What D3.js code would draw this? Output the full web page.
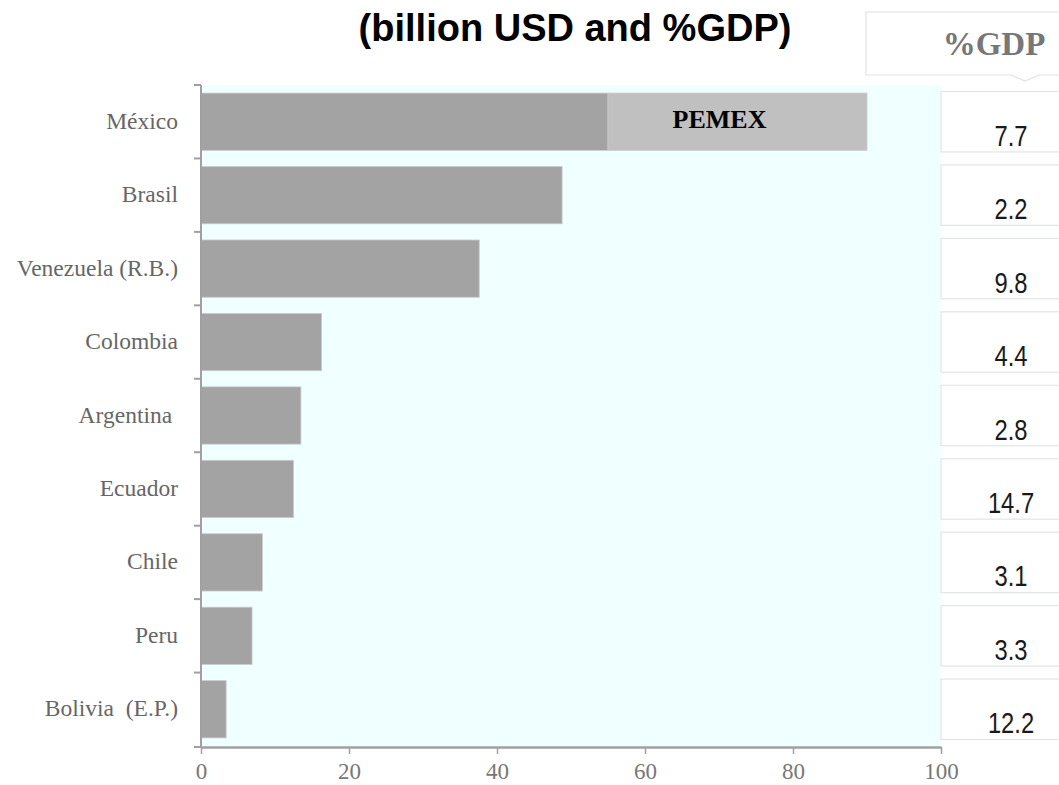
<!DOCTYPE html>
<html lang="en">
<head>
<meta charset="utf-8">
<title>Oil revenues (billion USD and %GDP)</title>
<script src="https://d3js.org/d3.v7.min.js"></script>
<style>
  body { margin: 0; background: #fff; }
  svg text { font-family: "Liberation Serif", "Times New Roman", serif; }
</style>
</head>
<body>
<div id="chart"></div>
<script>
// data
var countries = ["México", "Brasil", "Venezuela (R.B.)", "Colombia", "Argentina ", "Ecuador", "Chile", "Peru", "Bolivia  (E.P.)"];
var baseValues = [55, 48.8, 37.6, 16.3, 13.5, 12.5, 8.3, 6.9, 3.4];   // billion USD
var pemexValues = [35, 0, 0, 0, 0, 0, 0, 0, 0];                      // PEMEX part of México
var gdpShare = ["7.7", "2.2", "9.8", "4.4", "2.8", "14.7", "3.1", "3.3", "12.2"];
var xTicks = [0, 20, 40, 60, 80, 100];

var W = 1059, H = 785;
var margin = {top: 85, left: 201, right: 118, bottom: 39};
var plotW = W - margin.left - margin.right,
    plotH = H - margin.top - margin.bottom;

var svg = d3.select("#chart").append("svg")
    .attr("width", W)
    .attr("height", H);

var x = d3.scaleLinear().domain([0, 100]).range([margin.left, margin.left + plotW]);
var y = d3.scaleBand().domain(countries).range([margin.top, margin.top + plotH]);
var inset = y.step() * 0.11, barH = y.step() * 0.78;

// title
svg.append("text")
    .attr("x", 575).attr("y", 41)
    .attr("text-anchor", "middle")
    .style("font-family", "'Liberation Sans', Arial, sans-serif")
    .style("font-weight", "bold")
    .style("font-size", "38px")
    .attr("fill", "#000")
    .text("(billion USD and %GDP)");

// plot background
svg.append("rect")
    .attr("x", x(0)).attr("y", margin.top)
    .attr("width", x(100) - x(0)).attr("height", plotH)
    .attr("fill", "#f0ffff");

// stacked bars
var rows = countries.map(function (c, i) { return {country: c, base: baseValues[i], pemex: pemexValues[i]}; });
var stack = d3.stack().keys(["base", "pemex"])(rows);
var fills = {base: "#a3a3a3", pemex: "#c0c0c0"};

svg.append("g").selectAll("g")
  .data(stack)
  .join("g")
    .attr("fill", function (s) { return fills[s.key]; })
  .selectAll("rect")
  .data(function (s) { return s.filter(function (d) { return d[1] > d[0]; }); })
  .join("rect")
    .attr("x", function (d) { return x(d[0]); })
    .attr("y", function (d) { return y(d.data.country) + inset; })
    .attr("width", function (d) { return x(d[1]) - x(d[0]); })
    .attr("height", barH)
    .attr("stroke", "#c9cccc")
    .attr("stroke-width", 0.8);

// PEMEX label
svg.append("text")
    .attr("x", (x(baseValues[0]) + x(baseValues[0] + pemexValues[0])) / 2 - 18)
    .attr("y", y(countries[0]) + y.step() / 2 + 6)
    .attr("text-anchor", "middle")
    .style("font-weight", "bold")
    .style("font-size", "26px")
    .attr("fill", "#000")
    .text("PEMEX");

// bottom axis
var xAxis = svg.append("g")
    .attr("transform", "translate(0," + (margin.top + plotH + 1) + ")")
    .call(d3.axisBottom(x).tickValues(xTicks).tickSize(7).tickSizeOuter(0).tickPadding(9));
xAxis.select(".domain").attr("stroke", "#a0a0a0").attr("stroke-width", 2.5);
xAxis.selectAll(".tick line").attr("stroke", "#a0a0a0").attr("stroke-width", 1.5);
xAxis.selectAll(".tick text")
    .attr("fill", "#777")
    .style("font-family", "'Liberation Serif', serif")
    .style("font-size", "23px");

// left axis line with ticks at the row boundaries
var yAxis = svg.append("g");
yAxis.append("line")
    .attr("x1", x(0)).attr("x2", x(0))
    .attr("y1", margin.top).attr("y2", margin.top + plotH + 2)
    .attr("stroke", "#a0a0a0").attr("stroke-width", 2);
yAxis.selectAll("line.tick")
  .data(countries.concat([null]))
  .join("line")
    .attr("class", "tick")
    .attr("x1", x(0) - 7).attr("x2", x(0))
    .attr("y1", function (c) { return c === null ? margin.top + plotH + 1 : y(c); })
    .attr("y2", function (c) { return c === null ? margin.top + plotH + 1 : y(c); })
    .attr("stroke", "#a0a0a0").attr("stroke-width", 2);

// category labels
svg.append("g").selectAll("text")
  .data(countries)
  .join("text")
    .attr("x", 178)
    .attr("y", function (c) { return y(c) + y.step() / 2 + 7; })
    .attr("text-anchor", "end")
    .attr("fill", "#666")
    .style("font-size", "23.5px")
    .style("white-space", "pre")
    .text(function (c) { return c; });

// %GDP header with the small pointer underneath
var hx0 = 866, hx1 = 1070, hy0 = 12, hy1 = 75, px = 1025;
svg.append("path")
    .attr("d", "M" + hx0 + "," + hy0 + "H" + hx1 + "V" + hy1 + "H" + (px + 14) + "L" + px + "," + (hy1 + 6) + "L" + (px - 14) + "," + hy1 + "H" + hx0 + "Z")
    .attr("fill", "#fff")
    .attr("stroke", "#e2e2e2")
    .attr("stroke-width", 1.2);
svg.append("text")
    .attr("x", 994).attr("y", 55)
    .attr("text-anchor", "middle")
    .style("font-weight", "bold")
    .style("font-size", "33px")
    .attr("fill", "#777")
    .text("%GDP");

// %GDP boxes
var boxes = svg.append("g").selectAll("g")
  .data(countries)
  .join("g")
    .attr("transform", function (c) { return "translate(" + x(100) + "," + y(c) + ")"; });
boxes.append("rect")
    .attr("x", 0).attr("y", 6.5)
    .attr("width", 140).attr("height", y.step() - 13)
    .attr("fill", "#fff")
    .attr("stroke", "#e2e6e6")
    .attr("stroke-width", 1.2);
boxes.append("text")
    .attr("transform", "translate(70," + (y.step() / 2 + 24) + ") scale(0.82,1)")
    .attr("text-anchor", "middle")
    .attr("fill", "#1a1a1a")
    .style("font-family", "'Liberation Sans', Arial, sans-serif")
    .style("font-size", "29px")
    .text(function (c, i) { return gdpShare[i]; });
</script>
</body>
</html>
